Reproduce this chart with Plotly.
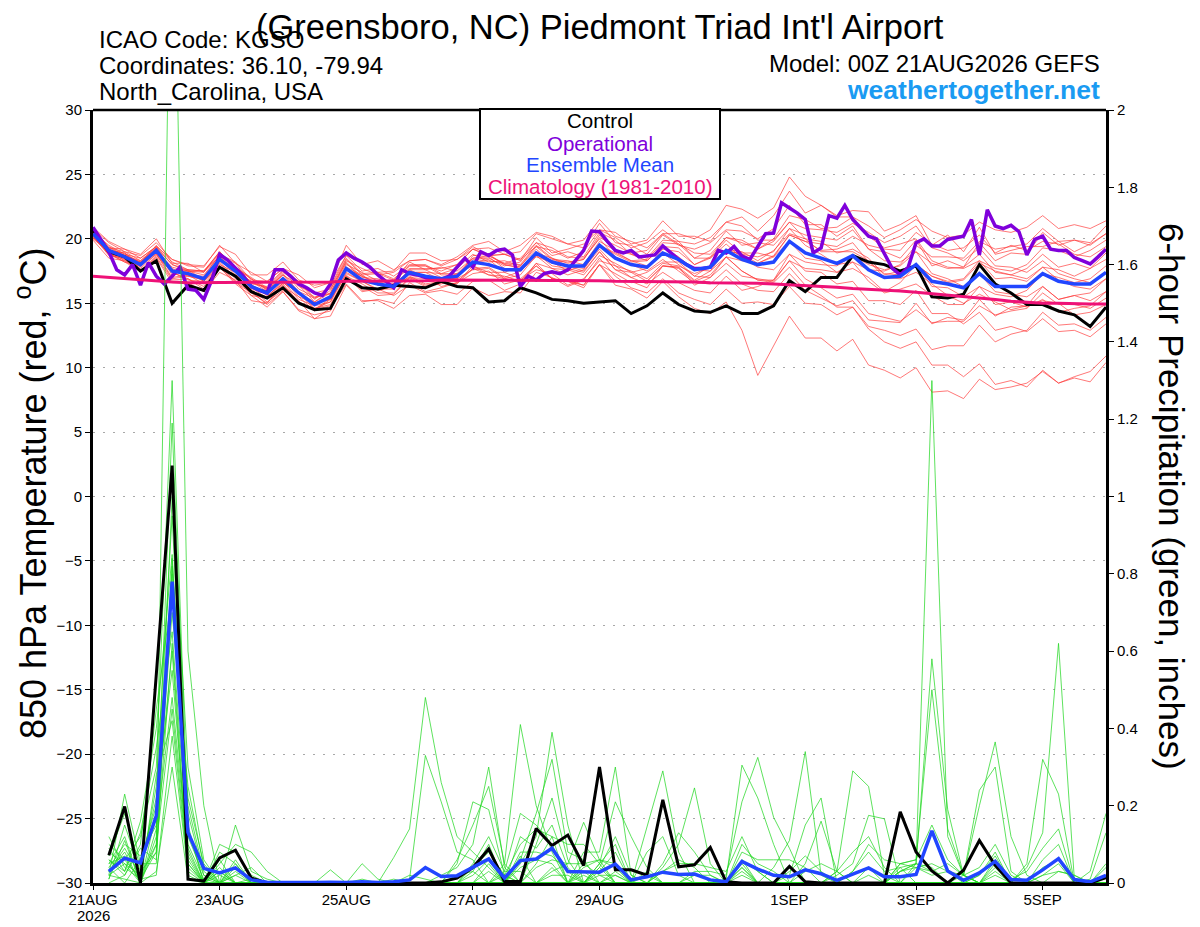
import plotly.graph_objects as go
import pandas as pd

# ---------------- time axes ----------------
time6 = pd.date_range("2026-08-21 00:00", periods=65, freq="6h")
time3 = pd.date_range("2026-08-21 00:00", periods=129, freq="3h")
ptime = time6[1:]

tick_dates = ["2026-08-21", "2026-08-23", "2026-08-25", "2026-08-27",
              "2026-08-29", "2026-09-01", "2026-09-03", "2026-09-05"]
tick_labels = ["21AUG", "23AUG", "25AUG", "27AUG", "29AUG", "1SEP", "3SEP", "5SEP"]
year_label = "2026"

# ---------------- 850 hPa temperature (C) ----------------
temp_control = [20.7, 19.0, 18.6, 17.5, 18.3, 15.0, 16.4, 16.0, 17.8, 17.1, 15.9, 15.4, 16.2, 15.0, 14.5, 14.6,
                16.9, 16.2, 16.1, 16.4, 16.3, 16.2, 16.7, 16.3, 16.2, 15.1, 15.2, 16.2, 15.8, 15.3, 15.2, 15.0,
                15.1, 15.2, 14.2, 14.8, 15.8, 14.9, 14.4, 14.3, 14.8, 14.2, 14.2, 14.8, 16.75, 15.9, 17.0, 17.0,
                18.7, 18.2, 18.0, 17.5, 17.9, 15.5, 15.4, 15.7, 18.0, 16.5, 15.8, 14.9, 14.9, 14.4, 14.1, 13.2,
                14.7]

temp_mean = [20.4, 19.1, 18.6, 18.0, 19.1, 17.5, 17.3, 16.9, 18.4, 17.5, 16.3, 15.8, 16.9, 15.8, 14.9, 15.5,
             17.7, 16.8, 16.5, 16.3, 17.4, 17.1, 16.9, 17.1, 18.2, 18.0, 17.6, 17.6, 18.9, 18.2, 17.9, 17.9,
             19.5, 18.5, 18.0, 17.8, 18.9, 18.4, 17.6, 17.8, 19.1, 18.4, 18.0, 18.2, 19.8, 18.9, 18.5, 18.1,
             18.7, 17.6, 17.0, 17.1, 18.0, 16.7, 16.5, 16.2, 17.3, 16.3, 16.3, 16.3, 17.3, 16.7, 16.5, 16.5,
             17.4]

temp_clim = [17.1, 17.0, 16.9, 16.8, 16.7, 16.65, 16.6, 16.6, 16.6, 16.6, 16.6, 16.6, 16.6, 16.65, 16.65, 16.65,
             16.7, 16.7, 16.7, 16.7, 16.75, 16.75, 16.8, 16.8, 16.8, 16.8, 16.8, 16.8, 16.8, 16.8, 16.75, 16.75,
             16.75, 16.7, 16.7, 16.7, 16.7, 16.65, 16.65, 16.6, 16.6, 16.55, 16.55, 16.5, 16.45, 16.4, 16.35, 16.25,
             16.15, 16.1, 16.0, 15.95, 15.85, 15.75, 15.65, 15.55, 15.4, 15.3, 15.15, 15.05, 15.0, 15.0, 14.95, 14.95,
             14.95]

# operational run, 3-hourly
temp_oper = [20.9, 19.9, 19.0, 17.6, 17.2, 18.0, 16.4, 18.15, 17.1, 16.5, 17.1, 17.8, 16.1, 16.0, 15.3, 16.8,
             18.8, 18.35, 17.7, 17.1, 16.3, 16.0, 15.8, 17.6, 17.6, 17.1, 16.5, 16.2, 15.8, 15.6, 16.5, 18.35,
             18.9, 18.5, 18.2, 17.8, 17.2, 16.7, 16.2, 17.6, 17.3, 17.2, 17.0, 16.9, 16.85, 17.1, 17.8, 18.5,
             17.8, 19.0, 18.7, 19.1, 19.2, 18.75, 16.3, 17.1, 16.8, 17.3, 17.45, 17.3, 17.6, 18.35, 19.1, 20.6,
             20.55, 19.8, 19.1, 18.9, 19.1, 18.6, 18.7, 18.75, 19.45, 18.9, 18.4, 18.0, 17.7, 17.7, 17.8, 19.1,
             18.9, 19.4, 18.65, 18.4, 19.4, 20.4, 20.45, 22.8, 22.4, 22.0, 21.5, 18.9, 19.3, 21.8, 21.6, 22.6,
             21.5, 20.8, 20.2, 20.0, 18.9, 17.7, 17.2, 17.8, 19.7, 20.0, 19.45, 19.45, 19.95, 20.1, 20.2, 21.5,
             18.75, 22.25, 21.0, 20.8, 21.05, 20.55, 18.75, 19.95, 20.2, 19.2, 19.1, 19.1, 18.55, 18.3, 18.05, 18.6,
             19.2]

temp_m00 = [20.8, 19.3, 19.2, 18.5, 19.4, 18.4, 17.9, 17.8, 19.5, 18.1, 17.4, 16.7, 17.7, 17.2, 16.2, 16.6,
            19.5, 18.0, 18.3, 17.6, 18.3, 18.4, 17.9, 18.4, 19.4, 18.7, 18.8, 18.3, 20.1, 18.9, 19.2, 19.6,
            20.7, 20.5, 19.6, 19.9, 21.4, 20.2, 20.2, 19.8, 21.3, 21.7, 20.6, 21.8, 23.7, 22.0, 22.6, 21.8,
            22.2, 22.1, 20.6, 21.1, 21.8, 19.5, 20.3, 19.0, 20.9, 18.8, 19.1, 19.4, 19.4, 19.8, 19.0, 19.6, 20.4]
temp_m01 = [20.3, 18.8, 18.4, 17.5, 18.6, 16.8, 16.9, 16.1, 17.8, 16.5, 15.6, 14.7, 15.9, 14.4, 13.8, 14.0,
            16.4, 15.1, 15.3, 15.0, 16.6, 15.9, 16.2, 16.6, 17.9, 17.2, 17.1, 16.7, 18.1, 16.9, 16.7, 16.2,
            18.0, 16.4, 16.1, 15.4, 16.7, 15.5, 14.6, 14.2, 15.1, 12.9, 9.4, 11.7, 14.0, 12.3, 12.3, 11.3,
            12.2, 10.2, 9.8, 9.2, 10.0, 8.1, 8.2, 7.6, 9.1, 8.3, 8.5, 8.8, 9.7, 8.8, 9.3, 9.7, 10.9]
temp_m02 = [20.9, 19.8, 19.2, 18.8, 20.0, 18.1, 18.1, 17.4, 19.0, 17.8, 16.9, 16.0, 17.3, 15.9, 15.4, 15.8,
            18.3, 17.7, 17.2, 17.4, 18.3, 18.4, 18.0, 18.6, 19.5, 19.8, 19.0, 19.5, 20.5, 20.2, 19.6, 19.3,
            21.2, 19.7, 19.5, 18.8, 20.3, 19.5, 19.2, 19.7, 20.7, 20.6, 20.0, 20.8, 22.6, 21.1, 21.1, 20.2,
            21.0, 19.2, 19.0, 18.5, 19.9, 17.9, 18.3, 17.8, 19.7, 18.3, 18.9, 18.8, 20.5, 19.5, 19.9, 19.7, 21.0]
temp_m03 = [20.0, 19.0, 18.3, 18.0, 18.9, 17.6, 17.2, 17.1, 18.7, 18.1, 16.5, 16.3, 17.6, 16.1, 15.5, 15.7,
            17.8, 17.2, 16.4, 16.5, 17.0, 17.1, 16.3, 16.6, 17.3, 17.5, 16.5, 16.8, 17.6, 17.3, 16.4, 16.9,
            18.3, 17.9, 17.0, 17.4, 18.2, 18.2, 17.1, 17.9, 19.2, 19.0, 18.3, 19.1, 20.4, 20.0, 19.0, 19.0,
            19.0, 18.3, 17.0, 16.9, 17.4, 16.5, 15.6, 15.0, 15.7, 15.1, 14.5, 14.8, 15.2, 15.0, 14.1, 14.3, 14.9]
temp_m04 = [20.5, 19.5, 18.8, 18.5, 19.4, 17.5, 17.5, 16.7, 18.1, 16.9, 16.1, 15.1, 16.0, 15.2, 13.8, 14.6,
            16.5, 15.2, 15.2, 14.6, 15.6, 15.7, 14.9, 14.9, 16.2, 15.6, 15.9, 15.8, 17.4, 17.0, 16.3, 16.8,
            18.5, 17.1, 16.2, 15.8, 16.9, 15.8, 15.3, 14.9, 16.1, 15.0, 15.1, 14.9, 16.3, 15.0, 14.9, 14.1,
            14.7, 13.0, 12.0, 11.5, 12.0, 10.2, 10.2, 9.3, 10.3, 8.7, 9.0, 8.5, 9.8, 8.8, 9.2, 8.9, 10.4]
temp_m05 = [20.6, 19.1, 18.9, 17.9, 18.8, 16.9, 17.1, 16.8, 18.6, 17.4, 16.7, 16.1, 17.4, 16.6, 15.3, 16.2,
            18.5, 17.3, 17.4, 16.9, 17.9, 17.9, 17.2, 17.2, 18.2, 18.4, 17.4, 17.9, 19.4, 19.1, 18.5, 19.0,
            20.7, 20.1, 19.3, 19.7, 20.7, 19.8, 19.6, 20.1, 21.3, 21.0, 19.9, 19.9, 21.3, 20.0, 19.8, 18.9,
            19.2, 18.5, 17.2, 17.5, 18.0, 17.1, 16.6, 16.8, 18.1, 17.5, 17.2, 17.7, 18.8, 17.8, 18.1, 17.7, 18.4]
temp_m06 = [20.1, 19.0, 18.7, 18.2, 19.3, 18.0, 17.6, 17.5, 19.0, 17.8, 17.0, 16.2, 17.2, 15.8, 15.0, 15.3,
            17.4, 16.7, 16.1, 16.3, 17.4, 17.4, 17.3, 17.7, 18.8, 18.2, 18.3, 17.9, 19.2, 18.1, 17.9, 17.5,
            19.0, 17.6, 17.4, 16.7, 17.9, 17.8, 16.4, 17.0, 18.6, 18.3, 18.1, 18.6, 20.3, 19.8, 19.6, 19.4,
            20.2, 19.5, 19.2, 19.1, 20.5, 19.6, 19.1, 19.3, 20.3, 18.9, 19.5, 19.1, 19.8, 19.6, 18.8, 18.6, 19.4]
temp_m07 = [20.8, 19.7, 19.0, 18.7, 19.7, 18.4, 18.0, 17.9, 19.4, 18.8, 17.2, 17.2, 18.2, 16.8, 16.4, 16.6,
            18.7, 17.5, 17.7, 17.1, 18.0, 18.0, 17.3, 17.3, 18.5, 18.7, 18.1, 18.5, 19.7, 18.7, 19.0, 18.6,
            20.5, 19.9, 18.8, 18.3, 19.4, 19.3, 18.0, 18.6, 20.1, 19.9, 19.2, 20.0, 21.8, 21.5, 20.8, 20.9,
            21.7, 21.0, 20.1, 20.7, 21.5, 20.6, 20.1, 20.3, 21.3, 20.7, 20.5, 20.9, 21.8, 20.8, 21.1, 20.8, 21.4]
temp_m08 = [20.3, 18.8, 18.2, 17.5, 18.5, 16.6, 16.6, 15.9, 17.4, 16.8, 15.2, 15.0, 16.3, 15.5, 14.4, 15.3,
            17.7, 17.1, 16.6, 16.7, 17.9, 17.9, 17.5, 18.0, 19.2, 18.7, 18.8, 18.4, 19.4, 18.4, 18.3, 18.0,
            19.5, 18.9, 18.3, 18.4, 19.7, 19.6, 18.5, 19.1, 20.6, 19.5, 19.7, 19.5, 20.8, 19.5, 18.8, 18.0,
            18.2, 16.7, 15.8, 16.1, 16.5, 15.6, 14.9, 14.9, 16.3, 15.7, 15.5, 16.0, 17.3, 17.0, 16.6, 16.9, 17.9]
temp_m09 = [20.4, 19.3, 18.7, 18.3, 19.3, 17.5, 17.6, 16.8, 18.2, 17.0, 16.2, 15.4, 16.4, 15.0, 14.5, 14.8,
            16.9, 16.3, 15.6, 15.7, 16.9, 16.9, 16.9, 17.2, 18.4, 18.5, 17.9, 18.2, 19.7, 19.3, 18.6, 18.5,
            20.0, 18.6, 18.0, 17.5, 18.4, 17.5, 16.6, 16.5, 17.6, 16.5, 16.0, 15.9, 17.3, 16.0, 15.4, 14.8,
            15.2, 13.7, 13.6, 13.5, 15.0, 13.4, 13.9, 13.7, 15.3, 14.0, 14.7, 14.8, 16.3, 15.3, 15.6, 15.2, 15.9]
temp_m10 = [20.6, 19.1, 18.9, 18.1, 19.5, 18.2, 17.6, 17.5, 18.6, 17.4, 16.6, 16.2, 17.5, 16.7, 15.4, 16.3,
            18.7, 18.1, 17.4, 17.5, 18.9, 18.9, 18.3, 18.4, 19.2, 18.7, 18.0, 17.7, 18.7, 17.7, 17.6, 17.2,
            18.7, 18.1, 17.4, 17.7, 19.2, 19.0, 18.0, 18.5, 19.9, 18.9, 18.9, 18.6, 19.8, 18.5, 18.3, 17.4,
            17.7, 17.0, 15.9, 16.6, 18.0, 17.1, 16.7, 16.9, 18.3, 17.7, 17.5, 18.0, 19.3, 19.1, 18.6, 19.1, 19.9]
temp_m11 = [19.9, 18.5, 18.3, 17.5, 18.7, 17.4, 16.8, 16.7, 17.8, 16.6, 15.8, 15.0, 16.6, 15.8, 14.5, 15.4,
            18.0, 17.4, 16.7, 16.8, 18.2, 17.6, 17.8, 17.5, 18.5, 18.6, 17.7, 17.5, 18.6, 18.2, 17.5, 18.0,
            19.8, 19.1, 18.8, 18.5, 19.9, 19.8, 18.5, 18.5, 19.6, 18.5, 17.8, 17.6, 18.8, 17.5, 17.4, 16.5,
            16.7, 15.2, 15.2, 14.9, 16.0, 14.2, 14.2, 13.4, 14.3, 12.9, 13.2, 12.8, 13.8, 12.8, 12.9, 12.4, 13.4]
temp_m12 = [20.7, 19.2, 18.6, 18.2, 19.1, 17.8, 17.5, 17.4, 18.8, 18.2, 16.8, 16.7, 17.7, 16.3, 15.8, 16.1,
            18.2, 17.0, 16.9, 16.4, 17.6, 17.0, 16.6, 16.7, 17.7, 17.8, 17.0, 17.5, 18.9, 18.5, 18.1, 18.4,
            20.1, 19.5, 18.9, 19.1, 20.4, 20.4, 20.0, 20.7, 22.6, 22.3, 21.6, 22.4, 24.8, 23.3, 22.6, 21.7,
            21.7, 20.2, 19.3, 19.6, 20.0, 18.3, 17.8, 17.7, 18.3, 16.9, 17.0, 16.7, 17.8, 17.6, 17.1, 17.7, 18.9]
temp_m13 = [20.2, 18.7, 18.5, 17.7, 18.8, 17.4, 16.9, 16.3, 17.9, 16.7, 15.9, 14.9, 15.9, 14.5, 14.1, 14.4,
            17.1, 15.9, 16.1, 16.1, 17.4, 17.4, 16.8, 17.3, 17.9, 17.4, 17.4, 16.9, 17.9, 16.9, 16.8, 16.4,
            18.0, 16.7, 16.7, 16.2, 17.9, 17.8, 16.8, 17.5, 19.1, 18.8, 18.1, 18.7, 20.3, 19.8, 19.1, 19.2,
            19.7, 18.2, 17.3, 17.2, 18.0, 16.3, 16.2, 15.5, 16.3, 14.9, 15.1, 14.7, 15.3, 14.3, 14.6, 14.8, 15.9]
temp_m14 = [20.4, 19.3, 19.0, 18.3, 19.4, 18.0, 17.5, 17.5, 18.9, 17.7, 16.9, 16.1, 16.9, 15.5, 15.0, 15.3,
            17.2, 16.0, 16.1, 15.6, 16.4, 15.8, 16.0, 15.7, 16.7, 16.8, 16.0, 16.5, 18.1, 17.7, 17.2, 17.6,
            19.5, 18.8, 18.2, 18.3, 19.4, 18.6, 17.6, 17.5, 18.6, 17.5, 16.8, 16.6, 17.8, 16.4, 15.6, 14.7,
            14.7, 13.2, 12.9, 12.5, 13.0, 11.4, 11.7, 11.7, 13.3, 12.0, 12.6, 12.9, 14.3, 13.3, 13.4, 12.9, 13.9]
temp_m15 = [20.5, 19.0, 18.8, 18.0, 19.0, 17.6, 17.1, 16.9, 18.4, 17.8, 16.2, 16.0, 17.2, 16.4, 15.1, 16.0,
            18.4, 17.2, 17.3, 16.8, 17.7, 17.7, 17.7, 18.0, 19.2, 19.3, 18.8, 19.0, 20.4, 20.0, 19.6, 19.9,
            21.5, 20.2, 19.8, 19.3, 20.4, 19.6, 18.9, 18.8, 20.1, 19.7, 19.2, 19.8, 21.3, 20.8, 20.7, 20.5,
            21.2, 20.5, 19.7, 20.2, 21.0, 19.3, 18.9, 18.3, 19.3, 17.9, 17.8, 17.4, 18.3, 17.3, 16.9, 16.6, 17.4]
temp_m16 = [20.1, 18.9, 18.2, 17.9, 19.1, 17.2, 17.4, 16.7, 18.0, 17.4, 15.8, 15.5, 16.7, 15.3, 14.8, 15.1,
            17.7, 17.1, 16.4, 16.5, 16.9, 16.3, 16.5, 16.9, 18.7, 18.8, 18.0, 17.8, 18.9, 17.9, 17.7, 17.4,
            19.0, 17.6, 17.0, 16.5, 17.4, 16.6, 16.0, 15.8, 17.1, 16.0, 16.3, 16.8, 18.8, 18.2, 18.0, 17.9,
            18.7, 18.0, 17.6, 17.9, 19.0, 18.1, 17.7, 17.8, 18.8, 17.4, 17.2, 16.9, 17.8, 16.8, 16.3, 16.1, 16.9]
temp_m17 = [20.6, 19.4, 18.7, 18.2, 19.2, 17.4, 17.5, 17.2, 18.7, 17.5, 16.7, 15.9, 16.7, 15.9, 14.6, 15.1,
            17.3, 16.7, 16.0, 16.3, 17.6, 17.6, 17.0, 16.9, 17.6, 17.7, 16.9, 17.2, 18.7, 18.3, 18.2, 18.4,
            20.3, 19.0, 18.3, 17.9, 18.9, 18.0, 17.1, 17.0, 18.1, 17.1, 16.9, 16.7, 18.3, 17.7, 17.6, 17.4,
            18.2, 17.6, 17.5, 18.0, 19.5, 18.6, 18.6, 18.5, 19.8, 19.2, 19.4, 19.6, 20.8, 19.8, 19.9, 19.5, 20.4]
temp_m18 = [20.3, 19.2, 18.4, 18.0, 18.9, 17.0, 17.2, 16.5, 17.8, 17.2, 15.6, 15.4, 16.6, 15.8, 15.1, 15.8,
            18.1, 16.9, 16.5, 16.1, 17.1, 16.5, 16.7, 17.0, 18.2, 18.3, 18.1, 18.0, 19.5, 18.5, 17.9, 17.7,
            19.2, 17.9, 17.5, 16.9, 18.1, 17.9, 17.3, 17.8, 19.1, 18.8, 18.6, 19.0, 20.8, 20.3, 20.1, 19.9,
            20.7, 19.2, 18.3, 18.2, 19.0, 17.3, 16.9, 16.3, 17.3, 15.9, 15.7, 15.5, 16.3, 15.3, 15.6, 15.8, 16.9]
temp_m19 = [20.2, 18.8, 18.6, 17.8, 19.1, 17.7, 17.2, 17.0, 18.4, 17.2, 16.4, 15.6, 16.5, 15.1, 14.6, 14.9,
            17.1, 16.5, 15.8, 15.8, 17.0, 16.4, 16.6, 16.5, 17.7, 17.2, 16.9, 16.6, 17.9, 16.9, 16.7, 16.4,
            18.0, 17.3, 16.6, 16.7, 17.9, 17.7, 16.7, 17.2, 18.6, 17.5, 16.8, 16.8, 18.3, 16.9, 16.2, 15.4,
            15.7, 14.2, 13.9, 13.6, 14.5, 13.5, 13.6, 13.6, 14.8, 14.1, 14.4, 14.6, 15.8, 14.9, 14.9, 14.6, 15.4]

temp_members = [temp_m00, temp_m01, temp_m02, temp_m03, temp_m04, temp_m05, temp_m06, temp_m07, temp_m08, temp_m09,
                temp_m10, temp_m11, temp_m12, temp_m13, temp_m14, temp_m15, temp_m16, temp_m17, temp_m18, temp_m19]

# ---------------- 6-hour precipitation (inches), 06Z 21AUG onward ----------------
precip_control = [0.072, 0.198, 0, 0.54, 1.08, 0.01, 0.005, 0.065,
                  0.085, 0.013, 0, 0, 0, 0, 0, 0,
                  0, 0, 0, 0, 0, 0.003, 0.013, 0.04,
                  0.088, 0.004, 0.004, 0.141, 0.097, 0.124, 0.045, 0.30,
                  0.034, 0.034, 0.02, 0.215, 0.042, 0.047, 0.092, 0.003,
                  0, 0, 0, 0.043, 0.003, 0, 0, 0,
                  0, 0, 0.184, 0.08, 0.031, 0, 0.033, 0.11,
                  0.046, 0, 0, 0, 0, 0, 0, 0.014]

precip_mean = [0.03, 0.064, 0.052, 0.174, 0.78, 0.131, 0.038, 0.026,
               0.039, 0.008, 0.002, 0.001, 0.001, 0.001, 0.002, 0.001,
               0.003, 0.001, 0.003, 0.008, 0.04, 0.017, 0.019, 0.04,
               0.062, 0.013, 0.058, 0.062, 0.09, 0.03, 0.03, 0.028,
               0.049, 0.008, 0.016, 0.028, 0.022, 0.023, 0.008, 0.003,
               0.056, 0.036, 0.02, 0.016, 0.034, 0.024, 0.007, 0.024,
               0.039, 0.016, 0.016, 0.022, 0.135, 0.031, 0.007, 0.026,
               0.056, 0.009, 0.007, 0.034, 0.063, 0.009, 0.003, 0.02]

precip_m00 = [.08, .05, .02, .25, .95, .10, .01, 0, .03, 0, 0, 0, 0, 0, 0, 0,
              0, 0, 0, 0, 0, 0, 0, .05, .12, .03, .03, 0, .04, 0, 0, .05,
              .21, .12, .04, 0, 0, 0, 0, 0, 0, 0, 0, .03, .07, .03, 0, 0,
              0, 0, 0, 0, 0, 0, 0, .02, .07, 0, 0, .06, .10, 0, 0, 0]
precip_m01 = [.05, .12, 0, .10, .45, .05, 0, .04, 0, 0, 0, 0, 0, 0, 0, 0,
              0, 0, 0, .02, .01, 0, 0, 0, 0, .02, .10, .14, .12, 0, 0, 0,
              0, 0, 0, .03, .06, .04, 0, 0, .02, 0, 0, 0, 0, 0, .03, .29,
              .25, .02, 0, 0, 0, 0, 0, 0, 0, 0, 0, .02, .03, .02, 0, 0]
precip_m02 = [.02, .23, .05, .05, .82, .20, .03, 0, .15, .03, .01, 0, 0, 0, 0, 0,
              0, 0, 0, 0, 0, 0, 0, 0, .03, 0, 0, .05, .12, .10, .10, .05,
              0, 0, 0, 0, 0, 0, 0, 0, .10, .05, .03, 0, 0, 0, 0, 0,
              0, 0, .04, .05, 1.30, .12, .02, 0, 0, 0, 0, 0, 0, 0, 0, 0]
precip_m03 = [.10, .06, .12, .30, 1.30, .15, 0, .06, 0, 0, 0, 0, 0, 0, 0, 0,
              .01, 0, 0, 0, 0, .02, .04, .10, .30, .04, 0, 0, 0, 0, .02, 0,
              .03, 0, .02, 0, 0, 0, 0, 0, .06, .03, 0, 0, 0, 0, 0, 0,
              .02, 0, 0, .04, .02, .03, .02, .24, .30, .03, 0, 0, 0, 0, 0, 0]
precip_m04 = [.03, .08, 0, .18, .60, .02, 0, 0, 0, 0, 0, 0, 0, 0, 0, 0,
              0, 0, .01, 0, 0, 0, 0, 0, 0, 0, .06, .18, .32, .08, .06, 0,
              0, 0, 0, .05, .13, .08, .02, 0, 0, 0, 0, 0, 0, 0, 0, 0,
              0, 0, .05, .06, .15, .06, .02, 0, 0, 0, 0, 0, 0, 0, 0, 0]
precip_m05 = [.01, .15, .03, .08, 2.80, .60, .20, 0, 0, 0, 0, 0, 0, 0, 0, 0,
              0, 0, 0, 0, 0, 0, 0, 0, 0, 0, .08, .08, .07, .03, 0, .04,
              .12, .02, 0, 0, 0, 0, 0, 0, .06, 0, 0, .02, .15, .22, 0, 0,
              0, 0, 0, 0, 0, 0, 0, 0, 0, 0, .04, .13, .62, .01, 0, 0]
precip_m06 = [.06, .03, .16, .40, .85, .08, 0, .10, .08, .02, 0, 0, 0, 0, 0, 0,
              0, 0, 0, 0, 0, 0, .05, .21, .19, .02, 0, 0, 0, 0, .04, .06,
              .04, 0, 0, 0, 0, 0, 0, 0, .04, 0, 0, 0, 0, 0, .03, .08,
              .12, .04, 0, 0, 0, 0, 0, 0, .06, 0, 0, 0, 0, 0, 0, .05]
precip_m07 = [.12, .04, .01, .02, .38, .03, 0, 0, .04, 0, 0, 0, 0, 0, 0, 0,
              0, 0, 0, 0, 0, 0, 0, 0, 0, 0, .05, .12, .39, .15, 0, 0,
              0, 0, 0, 0, 0, .03, .03, .02, .21, .325, .17, .09, 0, 0, 0, 0,
              0, 0, 0, 0, 0, 0, 0, 0, 0, 0, 0, .04, .06, 0, 0, 0]
precip_m08 = [.04, .10, .07, .15, .70, .25, .04, 0, 0, 0, 0, 0, 0, 0, 0, 0,
              0, 0, 0, .01, .33, .21, .08, .06, 0, 0, 0, 0, 0, 0, 0, .03,
              .08, 0, .08, .12, .02, 0, 0, 0, 0, 0, 0, 0, 0, 0, 0, 0,
              0, 0, .03, .04, .05, .03, 0, 0, 0, 0, 0, 0, .03, .02, 0, 0]
precip_m09 = [.02, .01, 0, .12, 1.19, .12, .02, 0, .02, 0, 0, 0, 0, 0, .034, 0,
              0, 0, 0, 0, 0, 0, 0, .02, .06, 0, 0, 0, .03, .05, .157, .06,
              0, 0, 0, 0, 0, 0, 0, 0, .03, 0, 0, 0, .05, .16, .03, 0,
              0, 0, 0, 0, 0, 0, 0, .02, .08, 0, 0, 0, 0, 0, 0, 0]
precip_m10 = [.07, .18, .04, .22, .55, .06, 0, .02, 0, 0, 0, 0, 0, 0, 0, 0,
              0, 0, 0, 0, 0, 0, 0, 0, 0, .05, .41, .20, .08, 0, 0, .04,
              0, 0, 0, 0, 0, 0, 0, 0, .05, 0, 0, 0, 0, 0, .02, .05,
              .175, .166, 0, 0, 0, 0, 0, 0, .02, 0, 0, 0, 0, 0, .01, .13]
precip_m11 = [0, .02, .09, .06, .84, .18, .02, 0, .05, 0, 0, 0, 0, 0, 0, 0,
              0, 0, 0, 0, 0, 0, 0, .04, .08, .02, 0, 0, .02, .02, 0, 0,
              .02, 0, 0, .03, .05, .05, .04, .03, .12, .03, 0, 0, 0, 0, 0, 0,
              0, 0, .03, .05, .58, .19, .02, 0, 0, 0, 0, 0, 0, 0, 0, 0]
precip_m12 = [.05, .07, 0, .28, .42, .04, 0, .08, .05, 0, 0, 0, 0, 0, 0, 0,
              0, 0, .066, .14, .48, .26, .12, .08, .04, 0, 0, 0, 0, 0, .05, .06,
              .05, 0, .03, 0, 0, 0, 0, 0, 0, 0, .04, .11, .34, .02, 0, 0,
              0, 0, 0, 0, 0, 0, 0, 0, .05, .01, .03, .09, .14, 0, 0, 0]
precip_m13 = [.03, .09, .02, .10, 1.00, .30, .06, 0, 0, .01, 0, 0, 0, 0, 0, 0,
              0, 0, 0, 0, 0, 0, 0, 0, .05, 0, .12, .09, .15, .04, 0, .02,
              0, 0, 0, 0, 0, .02, .02, 0, 0, 0, 0, 0, 0, 0, 0, .03,
              .10, .06, .05, .04, .03, 0, 0, 0, 0, 0, 0, 0, 0, 0, .03, .18]
precip_m14 = [.09, .03, .13, .35, .65, .09, 0, .05, .10, .08, .03, 0, 0, 0, 0, 0,
              0, 0, 0, 0, 0, 0, 0, 0, 0, 0, .04, .06, .05, 0, .03, 0,
              0, 0, 0, 0, 0, 0, 0, 0, .08, .06, .06, .06, .04, 0, 0, 0,
              0, 0, .05, .06, .50, .14, .02, 0, 0, 0, 0, 0, 0, 0, 0, 0]
precip_m15 = [.01, .11, 0, .03, .30, .01, 0, 0, 0, 0, 0, 0, 0, 0, 0, 0,
              0, 0, 0, 0, 0, 0, .06, .15, .25, .05, 0, 0, 0, 0, 0, .05,
              .10, 0, .146, .29, .08, 0, 0, 0, 0, 0, 0, 0, 0, 0, 0, 0,
              .04, 0, 0, 0, 0, 0, 0, 0, 0, 0, 0, .02, .05, 0, 0, 0]
precip_m16 = [.04, 0, .06, .20, .80, .14, 0, .03, 0, 0, 0, 0, 0, 0, 0, 0,
              .05, .01, 0, 0, 0, 0, 0, 0, 0, 0, 0, .10, .22, .06, 0, 0,
              0, 0, 0, .04, .10, .246, .05, 0, 0, 0, 0, 0, 0, 0, 0, 0,
              0, 0, 0, .05, .03, .05, .02, .20, .365, .12, .02, 0, 0, 0, 0, 0]
precip_m17 = [.02, .05, 0, .14, .48, .07, 0, 0, .06, 0, 0, 0, 0, 0, 0, 0,
              0, 0, 0, 0, 0, 0, 0, .03, .10, 0, .07, 0, 0, 0, .08, .08,
              .30, .02, 0, 0, 0, 0, 0, 0, 0, 0, 0, 0, .03, .05, .03, 0,
              0, 0, 0, 0, 0, 0, 0, 0, .04, 0, .05, .32, .23, 0, 0, 0]
precip_m18 = [.06, .02, .10, .45, .75, .22, .05, 0, .02, .04, 0, 0, 0, 0, 0, 0,
              0, 0, 0, 0, 0, 0, 0, 0, 0, .03, .18, .15, .10, 0, 0, 0,
              0, 0, 0, 0, 0, 0, 0, 0, .04, 0, 0, 0, 0, 0, 0, .03,
              .08, .03, .04, 0, 0, 0, 0, 0, .03, 0, 0, 0, 0, 0, 0, .04]
precip_m19 = [.03, .06, .01, .08, .62, .05, 0, .03, 0, 0, 0, 0, 0, 0, 0, 0,
              0, 0, 0, 0, 0, 0, .02, .03, 0, 0, 0, .04, .06, .05, .05, .02,
              .02, 0, 0, 0, 0, 0, 0, .01, .305, .22, .10, 0, 0, 0, 0, 0,
              0, 0, .03, .05, .04, 0, .02, .04, .10, .02, 0, 0, 0, 0, 0, 0]

precip_members = [precip_m00, precip_m01, precip_m02, precip_m03, precip_m04, precip_m05, precip_m06,
                  precip_m07, precip_m08, precip_m09, precip_m10, precip_m11, precip_m12, precip_m13,
                  precip_m14, precip_m15, precip_m16, precip_m17, precip_m18, precip_m19]

# ---------------- styling ----------------
FONT = "Liberation Sans, Arial, Helvetica, sans-serif"
RED = "rgba(255,55,55,0.85)"
GREEN = "rgba(30,215,30,0.9)"
PURPLE = "#7f00db"
BLUE = "#2146ff"
PINK = "#ee1177"

fig = go.Figure()

for m in temp_members:
    fig.add_trace(go.Scatter(x=time6, y=m, mode="lines", line=dict(color=RED, width=0.8),
                             hoverinfo="skip", showlegend=False))
fig.add_trace(go.Scatter(x=time6, y=temp_control, mode="lines", line=dict(color="black", width=3),
                         showlegend=False))
fig.add_trace(go.Scatter(x=time3, y=temp_oper, mode="lines", line=dict(color=PURPLE, width=3.5),
                         showlegend=False))
fig.add_trace(go.Scatter(x=time6, y=temp_mean, mode="lines", line=dict(color=BLUE, width=3.5),
                         showlegend=False))
fig.add_trace(go.Scatter(x=time6, y=temp_clim, mode="lines", line=dict(color=PINK, width=3),
                         showlegend=False))

for m in precip_members:
    fig.add_trace(go.Scatter(x=ptime, y=m, mode="lines", yaxis="y2", line=dict(color=GREEN, width=0.8),
                             hoverinfo="skip", showlegend=False))
fig.add_trace(go.Scatter(x=ptime, y=precip_control, mode="lines", yaxis="y2",
                         line=dict(color="black", width=3), showlegend=False))
fig.add_trace(go.Scatter(x=ptime, y=precip_mean, mode="lines", yaxis="y2",
                         line=dict(color=BLUE, width=3.5), showlegend=False))

# page has an 8px body margin, so the figure is drawn 8px in from the window corner
OFF = 8
W, H = 1200 - OFF, 927 - OFF
PLOT_L, PLOT_R, PLOT_T, PLOT_B = 93, 1106, 110, 883      # plot box in window pixels
L, R, T, B = PLOT_L - OFF, W - (PLOT_R - OFF), PLOT_T - OFF, H - (PLOT_B - OFF)
PW, PH = PLOT_R - PLOT_L, PLOT_B - PLOT_T


def px(x):
    return (x - PLOT_L) / PW


def py(y):
    return (PLOT_B - y) / PH


fig.update_layout(
    width=W, height=H,
    margin=dict(l=L, r=R, t=T, b=B, autoexpand=False),
    paper_bgcolor="white", plot_bgcolor="white",
    font=dict(family=FONT, color="black"),
    showlegend=False,
    xaxis=dict(
        type="date", automargin=False,
        range=["2026-08-21 00:00", "2026-09-06 00:00"],
        tickvals=tick_dates, ticktext=tick_labels,
        ticks="outside", ticklen=4, tickwidth=1, tickcolor="black",
        ticklabelstandoff=-3,
        tickfont=dict(size=15, family=FONT),
        showline=True, linewidth=3, linecolor="black",
        showgrid=False, zeroline=False,
    ),
    yaxis=dict(
        range=[-30, 30], tickvals=list(range(-30, 31, 5)), automargin=False,
        ticks="outside", ticklen=5, tickwidth=1, tickcolor="black",
        tickfont=dict(size=15, family=FONT),
        showline=True, linewidth=3, linecolor="black",
        showgrid=True, gridcolor="#a8a8a8", gridwidth=1, griddash="2px,8px",
        zeroline=False,
    ),
    yaxis2=dict(
        range=[0, 2], overlaying="y", side="right", automargin=False,
        tickvals=[0, 0.2, 0.4, 0.6, 0.8, 1.0, 1.2, 1.4, 1.6, 1.8, 2.0],
        ticktext=["0", "0.2", "0.4", "0.6", "0.8", "1", "1.2", "1.4", "1.6", "1.8", "2"],
        ticks="outside", ticklen=5, tickwidth=1, tickcolor="black",
        tickfont=dict(size=15, family=FONT),
        showline=True, linewidth=3, linecolor="black",
        showgrid=False, zeroline=False,
    ),
)

shapes = [
    dict(type="line", xref="paper", yref="paper", x0=0, x1=1, y0=1, y1=1,
         line=dict(color="black", width=2.5)),
    dict(type="rect", xref="paper", yref="paper", x0=px(480), x1=px(720), y0=py(199), y1=py(109),
         fillcolor="white", line=dict(color="black", width=2), layer="above"),
]
fig.update_layout(shapes=shapes)

ann = []


def add_text(text, x, y, size, color="black", xanchor="center", angle=0, bold=False):
    if bold:
        text = "<b>" + text + "</b>"
    ann.append(dict(text=text, xref="paper", yref="paper", x=px(x), y=py(y), xanchor=xanchor,
                    yanchor="middle", showarrow=False, textangle=angle,
                    font=dict(size=size, color=color, family=FONT)))


add_text("(Greensboro, NC) Piedmont Triad Int'l Airport", 600, 27, 34.5)
add_text("ICAO Code: KGSO", 97, 40, 24, xanchor="left")
add_text("Coordinates: 36.10, -79.94", 97, 66, 24, xanchor="left")
add_text("North_Carolina, USA", 97, 92, 24, xanchor="left")
add_text("Model: 00Z 21AUG2026 GEFS", 1102, 63, 24, xanchor="right")
add_text("weathertogether.net", 1102, 90, 26.5, color="#1a9bf2", xanchor="right", bold=True)
add_text("850 hPa Temperature (red, <sup>o</sup>C)", 31, 493, 36, angle=-90)
add_text("6-hour Precipitation (green, inches)", 1172, 496, 35, angle=90)
add_text("Control", 600, 121, 20.5)
add_text("Operational", 600, 143, 20.5, color=PURPLE)
add_text("Ensemble Mean", 600, 164, 20.5, color=BLUE)
add_text("Climatology (1981-2010)", 600, 186, 20.5, color=PINK)
add_text(year_label, 93, 915, 15)
fig.update_layout(annotations=ann)

fig.write_html("out.html")
